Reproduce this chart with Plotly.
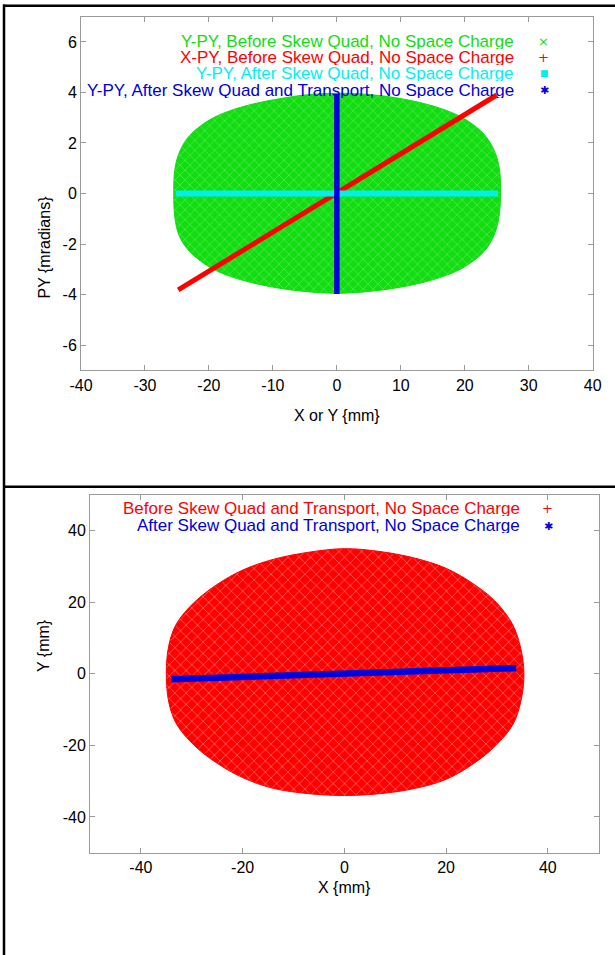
import plotly.graph_objects as go

# ---------------- data ----------------
# Top panel: outline of the Y-PY "before" particle cloud (mm, mrad)
green_x = [-25.5, -25.3, -24.5, -23, -20, -17, -13, -9, -5, 0, 5, 9, 13, 17, 20, 23, 24.6, 25.4,
           25.6, 25.3, 24.5, 23, 20, 17, 13, 9, 5, 0, -5, -9, -13, -17, -20, -23, -24.6, -25.3, -25.5]
green_y = [0, 1.0, 1.7, 2.3, 2.9, 3.25, 3.55, 3.75, 3.9, 3.97, 3.92, 3.8, 3.6, 3.3, 2.95, 2.35, 1.7, 1.0,
           0, -1.0, -1.7, -2.3, -2.9, -3.25, -3.55, -3.75, -3.88, -3.95, -3.88, -3.75, -3.55, -3.25, -2.9,
           -2.3, -1.7, -1.0, 0]
# X-PY before skew quad (a thin correlated line)
red_x = [-24.8, 25.0]
red_y = [-3.82, 3.9]
# Y-PY after skew quad
cyan_x = [-25.2, 25.2]
cyan_y = [0.0, 0.0]
# Y-PY after skew quad and transport
blue_x = [0.0, 0.0]
blue_y = [-3.98, 3.95]

# Bottom panel: outline of the X-Y "before" cloud (mm)
cloud_x = [-35, -34.5, -33, -29.5, -25, -20, -14, -7, 0, 7, 14, 20, 25, 29.5, 33, 34.7, 35.3, 34.8, 33.2,
           29.8, 25.5, 20, 14, 7, 0, -7, -14, -20, -25, -29.5, -33, -34.5, -35]
cloud_y = [0, 8, 14, 20, 25, 29, 32, 34, 35, 34.2, 32.3, 29.5, 25.5, 20.5, 14, 7, 0, -7, -14,
           -20, -25, -29.5, -32, -33.5, -34, -33.5, -32, -29, -25, -20, -14, -8, 0]
# X-Y after skew quad and transport
after_x = [-34.0, 33.8]
after_y = [-1.5, 1.6]

top_legend = ["Y-PY, Before Skew Quad, No Space Charge",
              "X-PY, Before Skew Quad, No Space Charge",
              "Y-PY, After Skew Quad, No Space Charge",
              "Y-PY, After Skew Quad and Transport, No Space Charge"]
bot_legend = ["Before Skew Quad and Transport, No Space Charge",
              "After Skew Quad and Transport, No Space Charge"]

top_xticks = [-40, -30, -20, -10, 0, 10, 20, 30, 40]
top_xlabels = ["-40", "-30", "-20", "-10", "0", "10", "20", "30", "40"]
top_yticks = [-6, -4, -2, 0, 2, 4, 6]
top_ylabels = ["-6", "-4", "-2", "0", "2", "4", "6"]
bot_ticks = [-40, -20, 0, 20, 40]
bot_labels = ["-40", "-20", "0", "20", "40"]

GREEN = "#11dd11"
RED = "#ff0000"
CYAN = "#00f0f0"
BLUE = "#0000dd"

W, H = 615, 955

def px(xp):
    return xp / W

def py(yp):
    return 1 - yp / H

fig = go.Figure()

# top panel traces
fig.add_trace(go.Scatter(x=green_x, y=green_y, mode="lines", fill="toself",
                         line=dict(color=GREEN, width=1, shape="spline"),
                         fillcolor="rgba(0,0,0,0)",
                         fillpattern=dict(shape="x", fgcolor="white", bgcolor=GREEN,
                                          size=7, solidity=0.12),
                         xaxis="x", yaxis="y"))
fig.add_trace(go.Scatter(x=red_x, y=red_y, mode="lines", line=dict(color=RED, width=5),
                         xaxis="x", yaxis="y"))
fig.add_trace(go.Scatter(x=cyan_x, y=cyan_y, mode="lines", line=dict(color=CYAN, width=6),
                         xaxis="x", yaxis="y"))
fig.add_trace(go.Scatter(x=blue_x, y=blue_y, mode="lines", line=dict(color=BLUE, width=5.5),
                         xaxis="x", yaxis="y"))

# bottom panel traces
fig.add_trace(go.Scatter(x=cloud_x, y=cloud_y, mode="lines", fill="toself",
                         line=dict(color=RED, width=1, shape="spline"),
                         fillcolor="rgba(0,0,0,0)",
                         fillpattern=dict(shape="x", fgcolor="white", bgcolor=RED,
                                          size=8, solidity=0.15),
                         xaxis="x2", yaxis="y2"))
fig.add_trace(go.Scatter(x=after_x, y=after_y, mode="lines", line=dict(color=BLUE, width=6.5),
                         xaxis="x2", yaxis="y2"))

axis_common = dict(showgrid=False, zeroline=False, showline=True, linecolor="#9a9a9a",
                   linewidth=1, mirror="ticks", ticks="inside", ticklen=5,
                   tickcolor="#9a9a9a", tickwidth=1, automargin=False,
                   tickfont=dict(family="Liberation Sans, Arial", size=16, color="black"))

fig.update_layout(
    width=W, height=H, margin=dict(l=0, r=0, t=0, b=0, autoexpand=False),
    paper_bgcolor="white", plot_bgcolor="white", showlegend=False, hovermode=False,
    xaxis=dict(axis_common, domain=[px(81), px(592.7)], range=[-40, 40], tickvals=top_xticks,
               ticktext=top_xlabels, anchor="y"),
    yaxis=dict(axis_common, domain=[py(370.3), py(16.7)], range=[-7, 7], tickvals=top_yticks,
               ticktext=top_ylabels, anchor="x"),
    xaxis2=dict(axis_common, domain=[px(90), px(598.7)], range=[-50, 50], tickvals=bot_ticks,
                ticktext=bot_labels, anchor="y2"),
    yaxis2=dict(axis_common, domain=[py(852.7), py(495)], range=[-50, 50], tickvals=bot_ticks,
                ticktext=bot_labels, anchor="x2"),
)

font = "Liberation Sans, Arial"
ann = []
# axis titles
ann.append(dict(text="X or Y {mm}", x=px(337), y=py(415), xref="paper", yref="paper",
                showarrow=False, font=dict(family=font, size=16, color="black")))
ann.append(dict(text="PY {mradians}", x=px(33), y=py(193.5), xref="paper", yref="paper",
                textangle=-90, showarrow=False, font=dict(family=font, size=16, color="black")))
ann.append(dict(text="X {mm}", x=px(344), y=py(898), xref="paper", yref="paper",
                showarrow=False, font=dict(family=font, size=16, color="black")))
ann.append(dict(text="Y {mm}", x=px(33), y=py(674), xref="paper", yref="paper",
                textangle=-90, showarrow=False, font=dict(family=font, size=16, color="black")))

# legends (gnuplot style: right-aligned text, symbol to the right)
top_cols = [GREEN, RED, CYAN, BLUE]
top_syms = ["×", "+", "■", "✱"]
top_sym_size = [13, 13, 9, 11]
top_rows = [31.7, 47.7, 64.0, 81.0]
for t, c, s, ss, r in zip(top_legend, top_cols, top_syms, top_sym_size, top_rows):
    ann.append(dict(text=t, x=px(516), y=py(r), xref="paper", yref="paper", xanchor="right",
                    height=15, showarrow=False, font=dict(family=font, size=17, color=c)))
    ann.append(dict(text=s, x=px(551), y=py(r), xref="paper", yref="paper",
                    height=14, showarrow=False, font=dict(family="DejaVu Sans", size=ss, color=c)))

bot_cols = [RED, BLUE]
bot_syms = ["+", "✱"]
bot_sym_size = [13, 11]
bot_rows = [508.3, 525.5]
for t, c, s, ss, r in zip(bot_legend, bot_cols, bot_syms, bot_sym_size, bot_rows):
    ann.append(dict(text=t, x=px(522), y=py(r), xref="paper", yref="paper", xanchor="right",
                    height=15, showarrow=False, font=dict(family=font, size=17, color=c)))
    ann.append(dict(text=s, x=px(555), y=py(r), xref="paper", yref="paper",
                    height=14, showarrow=False, font=dict(family="DejaVu Sans", size=ss, color=c)))

fig.update_layout(annotations=ann)

# outer frame lines
shapes = [
    dict(type="line", xref="paper", yref="paper", x0=px(3), x1=1, y0=py(5.7), y1=py(5.7),
         line=dict(color="black", width=2.5)),
    dict(type="line", xref="paper", yref="paper", x0=px(4), x1=px(4), y0=py(4.5), y1=0,
         line=dict(color="black", width=2.5)),
    dict(type="line", xref="paper", yref="paper", x0=px(3), x1=1, y0=py(486.7), y1=py(486.7),
         line=dict(color="black", width=2.5)),
]
fig.update_layout(shapes=shapes)

fig.write_html("out.html", config={"displayModeBar": False},
               post_script="document.body.style.margin='0';document.body.style.overflow='hidden';")
